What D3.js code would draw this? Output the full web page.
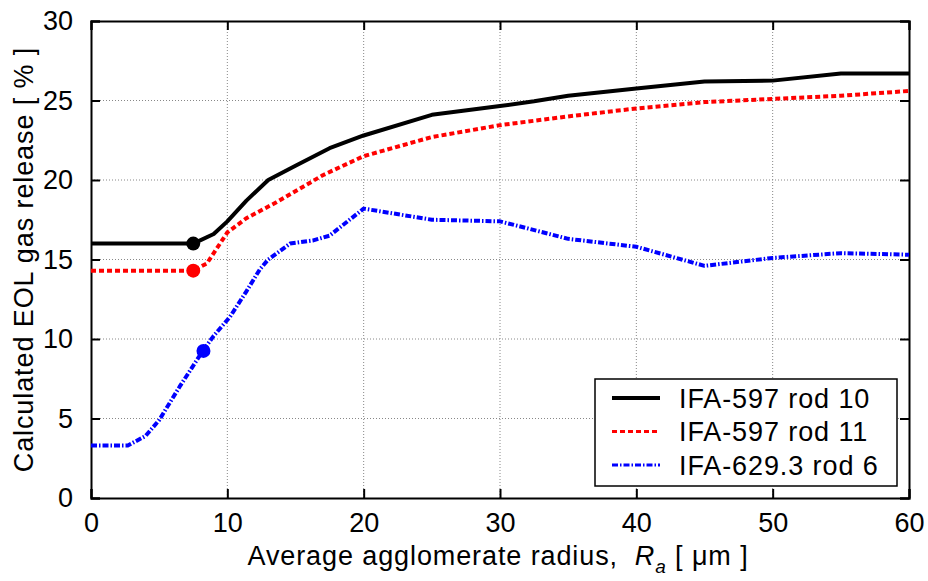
<!DOCTYPE html>
<html>
<head>
<meta charset="utf-8">
<script src="https://cdn.jsdelivr.net/npm/d3@7"></script>
<style>
  body { margin: 0; background: #fff; }
  text { font-family: "Liberation Sans", Arial, sans-serif; fill: #000; }
</style>
</head>
<body>
<div class="chart"></div>
<script>
// values
const rod10 = [[0,16.0],[7.5,16.0],[9,16.6],[10,17.4],[11.4,18.7],[13,20.0],[15,20.9],[17.5,22.0],[20,22.8],[25,24.1],[30,24.65],[32.5,24.95],[35,25.3],[40,25.75],[45,26.2],[50,26.25],[55,26.7],[60,26.7]];
const rod11 = [[0,14.3],[7.5,14.3],[8.5,14.75],[10,16.7],[11.4,17.6],[13.6,18.6],[17,20.3],[20,21.5],[25,22.7],[30,23.45],[35,24.0],[40,24.5],[45,24.9],[50,25.1],[55,25.3],[60,25.6]];
const rod6 = [[0,3.3],[2.7,3.3],[4,3.9],[5,4.9],[6.5,7.0],[8.2,9.25],[9,10.2],[10.2,11.4],[11.4,13.0],[12.4,14.4],[13,15.0],[14.6,16.0],[16.3,16.2],[17.5,16.5],[20,18.2],[25,17.5],[30,17.4],[35,16.3],[40,15.8],[45,14.6],[50,15.1],[55,15.4],[60,15.3]];
const markers = [[7.5,16.0,"#000"],[7.5,14.3,"#ff0000"],[8.25,9.25,"#0000ff"]];
const xTicks = [0,10,20,30,40,50,60];
const yTicks = [0,5,10,15,20,25,30];
const seriesNames = ["IFA-597 rod 10","IFA-597 rod 11","IFA-629.3 rod 6"];

const width = 928, height = 581;
const margin = {left: 91, right: 19, top: 21, bottom: 83};

const svg = d3.select(".chart").append("svg")
    .attr("width", width).attr("height", height)
    .attr("viewBox", [0,0,width,height]);

const x = d3.scaleLinear().domain([0,60]).range([margin.left, width - margin.right]);
const y = d3.scaleLinear().domain([0,30]).range([height - margin.bottom, margin.top]);

// grid
svg.append("g").selectAll("line.vg")
    .data(xTicks.slice(1, -1))
    .join("line")
    .attr("x1", d => x(d)).attr("x2", d => x(d))
    .attr("y1", y(0)).attr("y2", y(30))
    .attr("stroke", "#888").attr("stroke-width", 1).attr("stroke-dasharray", "1,2");
svg.append("g").selectAll("line.hg")
    .data(yTicks.slice(1, -1))
    .join("line")
    .attr("y1", d => y(d)).attr("y2", d => y(d))
    .attr("x1", x(0)).attr("x2", x(60))
    .attr("stroke", "#888").attr("stroke-width", 1).attr("stroke-dasharray", "1,2");

// axes with inward ticks
const tickLen = 9;
const xAxis = svg.append("g")
    .attr("transform", `translate(0,${y(0)})`)
    .call(d3.axisBottom(x).tickValues(xTicks).tickSize(-tickLen).tickPadding(tickLen + 18));
const xTop = svg.append("g")
    .attr("transform", `translate(0,${y(30)})`)
    .call(d3.axisTop(x).tickValues(xTicks).tickSize(-tickLen).tickFormat(""));
const yAxis = svg.append("g")
    .attr("transform", `translate(${x(0)},0)`)
    .call(d3.axisLeft(y).tickValues(yTicks).tickSize(-tickLen).tickPadding(tickLen + 9));
const yRight = svg.append("g")
    .attr("transform", `translate(${x(60)},0)`)
    .call(d3.axisRight(y).tickValues(yTicks).tickSize(-tickLen).tickFormat(""));

[xAxis, xTop, yAxis, yRight].forEach(g => {
    g.select(".domain").attr("stroke", "#000").attr("stroke-width", 2);
    g.selectAll(".tick line").attr("stroke", "#000").attr("stroke-width", 2);
    g.selectAll(".tick text")
        .style("font-family", "'Liberation Sans', Arial, sans-serif")
        .style("font-size", "27px").attr("fill", "#000");
});
xAxis.selectAll(".tick text").attr("dy", "0.25em");

// lines
const line = d3.line().x(d => x(d[0])).y(d => y(d[1]));
const styles = [
    {data: rod10, color: "#000", dash: null, w: 4},
    {data: rod11, color: "#ff0000", dash: "5,3", w: 4},
    {data: rod6, color: "#0000ff", dash: "6,2,1.5,2", w: 4}
];
styles.forEach(s => {
    svg.append("path")
        .datum(s.data)
        .attr("d", line)
        .attr("fill", "none")
        .attr("stroke", s.color)
        .attr("stroke-width", s.w)
        .attr("stroke-dasharray", s.dash)
        .attr("stroke-linejoin", "round");
});

svg.append("g").selectAll("circle")
    .data(markers)
    .join("circle")
    .attr("cx", d => x(d[0])).attr("cy", d => y(d[1]))
    .attr("r", 7)
    .attr("fill", d => d[2]);

// legend
const legend = svg.append("g").attr("transform", "translate(595,379)");
legend.append("rect")
    .attr("width", 302).attr("height", 107)
    .attr("fill", "#fff").attr("stroke", "#000").attr("stroke-width", 1.5);
seriesNames.forEach((name, i) => {
    const ly = 19 + i * 33.5;
    legend.append("line")
        .attr("x1", 17).attr("x2", 65)
        .attr("y1", ly).attr("y2", ly)
        .attr("stroke", styles[i].color)
        .attr("stroke-width", i === 0 ? 4 : 3)
        .attr("stroke-dasharray", styles[i].dash);
    legend.append("text")
        .attr("x", 84).attr("y", ly + 9.5)
        .style("font-size", "27px")
        .style("letter-spacing", "0.9px")
        .text(name);
});

// axis titles
svg.append("text")
    .attr("x", 498).attr("y", 565)
    .attr("text-anchor", "middle")
    .style("font-size", "27px")
    .style("letter-spacing", "0.9px")
    .html('Average agglomerate radius,&#160; <tspan font-style="italic">R</tspan><tspan font-style="italic" font-size="19px" dy="8">a</tspan><tspan dy="-8"> [ μm ]</tspan>');

svg.append("text")
    .attr("transform", `translate(33,${(y(0) + y(30)) / 2}) rotate(-90)`)
    .attr("text-anchor", "middle")
    .style("font-size", "27px")
    .style("letter-spacing", "0.9px")
    .text("Calculated EOL gas release [ % ]");
</script>
</body>
</html>
